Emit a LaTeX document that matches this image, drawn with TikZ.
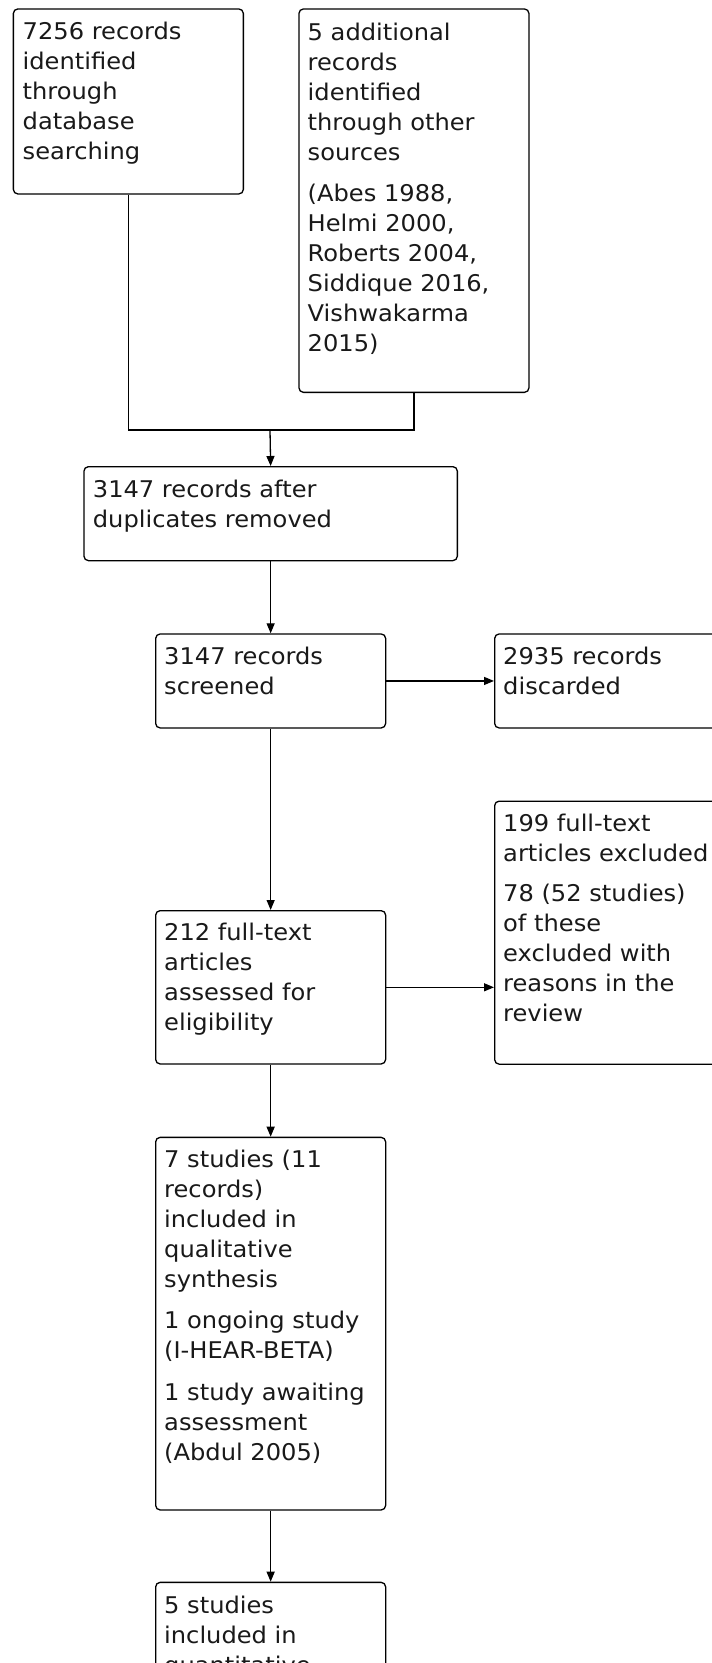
\documentclass[tikz,border=0pt]{standalone}
\usepackage{fontspec}
\setmainfont{DejaVu Sans}[FakeStretch=1.05]
\usetikzlibrary{arrows.meta}
\begin{document}
\begin{tikzpicture}[x=1pt,y=-1pt,
  box/.style={draw=black, line width=1.3pt, rounded corners=4.5pt, rectangle, inner sep=0pt, anchor=north west, minimum width=230pt},
  txt/.style={anchor=base west, inner sep=0pt, font=\fontsize{23}{30}\selectfont, text=black!90},
  conn/.style={line width=1.3pt, draw=black},
  arr/.style={conn, -{Triangle[width=8pt,length=10pt]}}]
\useasboundingbox (0,0) rectangle (712,1663);
\clip (0,0) rectangle (712,1663);

% boxes
\node[box, minimum height=185pt] (b1) at (12.7,8.3) {};
\node[box, minimum height=383.4pt] (b2) at (298.3,8.3) {};
\node[box, minimum width=373.4pt, minimum height=94pt] (b3) at (83.3,466) {};
\node[box, minimum height=94pt] (b4) at (155,633.3) {};
\node[box, minimum height=94pt] (b5) at (494,633.3) {};
\node[box, minimum height=263pt] (b6) at (494,800.5) {};
\node[box, minimum height=153.3pt] (b7) at (155,910) {};
\node[box, minimum height=372.6pt] (b8) at (155,1136.7) {};
\node[box, minimum height=140pt] (b9) at (155,1581.7) {};

% texts
\node[txt] (t1) at (22.5,39.3) {\parbox[t]{225pt}{\raggedright 7256 records\\identified\\through\\database\\searching}};
\node[txt] (t2) at (307.5,40.7) {\parbox[t]{225pt}{\raggedright 5 additional\\records\\identified\\through other\\sources\\[11pt](Abes 1988,\\Helmi 2000,\\Roberts 2004,\\Siddique 2016,\\Vishwakarma\\2015)}};
\node[txt] (t3) at (92.7,497.3) {\parbox[t]{360pt}{\raggedright 3147 records after\\duplicates removed}};
\node[txt] (t4) at (164,664) {\parbox[t]{225pt}{\raggedright 3147 records\\screened}};
\node[txt] (t5) at (503,664) {\parbox[t]{225pt}{\raggedright 2935 records\\discarded}};
\node[txt] (t6) at (503,831.7) {\parbox[t]{225pt}{\raggedright 199 full-text\\articles excluded\\[10pt]78 (52 studies)\\of these\\excluded with\\reasons in the\\review}};
\node[txt] (t7) at (164,940.5) {\parbox[t]{225pt}{\raggedright 212 full-text\\articles\\assessed for\\eligibility}};
\node[txt] (t8) at (164,1167.3) {\parbox[t]{225pt}{\raggedright 7 studies (11\\records)\\included in\\qualitative\\synthesis\\[11.5pt]1 ongoing study\\(I-HEAR-BETA)\\[11.5pt]1 study awaiting\\assessment\\(Abdul 2005)}};
\node[txt] (t9) at (164,1613.3) {\parbox[t]{225pt}{\raggedright 5 studies\\included in\\quantitative}};

% connectors
\coordinate (j) at (270,430);
\draw[conn] (b1.south) |- (j) -| (b2.south);
\draw[arr] (j) -- (b3.north);
\draw[arr] (b3.south) -- (b4.north);
\draw[arr] (b4.east) -- (b5.west);
\draw[arr] (b4.south) -- (b7.north);
\draw[arr] (b7.east) -- (b7.east -| b6.west);
\draw[arr] (b7.south) -- (b8.north);
\draw[arr] (b8.south) -- (b9.north);
\end{tikzpicture}
\end{document}
